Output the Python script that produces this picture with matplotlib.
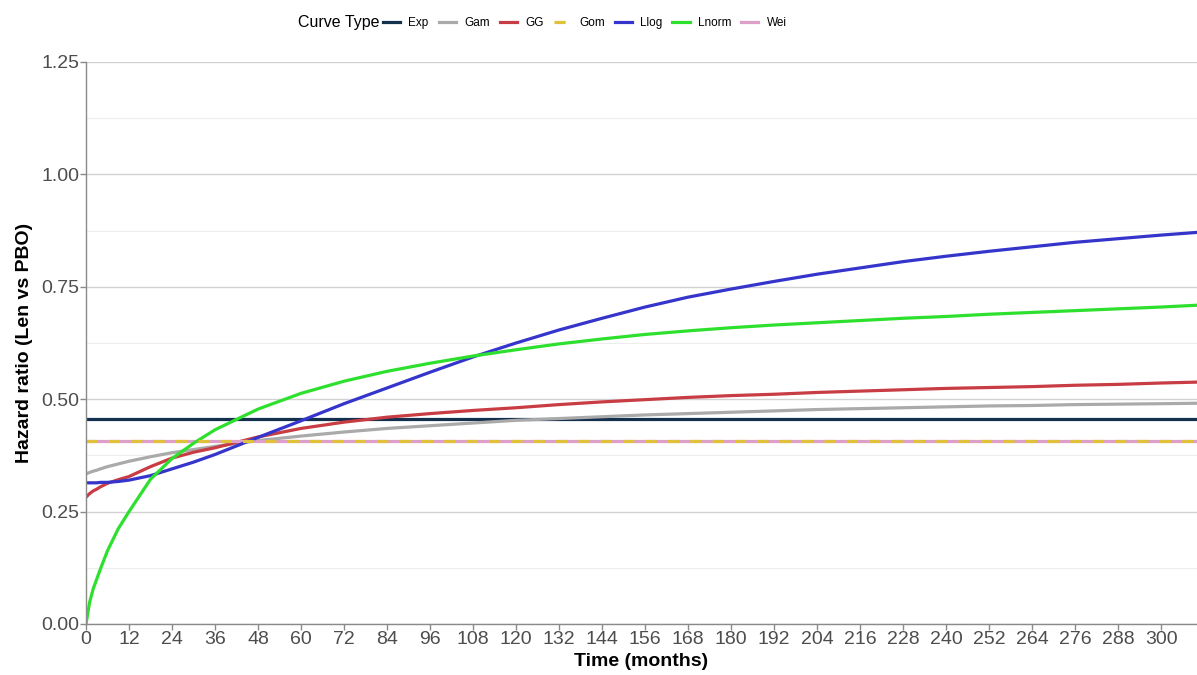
import numpy as np
import matplotlib
matplotlib.use("Agg")
import matplotlib.pyplot as plt
from matplotlib.ticker import MultipleLocator

plt.rcParams['font.family'] = ['Liberation Sans', 'DejaVu Sans']

# time grid (months) on which the curves were read
months = [0, 1, 2, 3, 4, 6, 9, 12, 18, 24, 30, 36, 48, 60, 72, 84, 96, 108,
          120, 132, 144, 156, 168, 180, 192, 204, 216, 228, 240, 252, 264, 276,
          288, 300, 310]

# hazard ratios
hr_exp = 0.456
hr_gom = 0.407
hr_wei = 0.407
hr_gam = [0.334, 0.337, 0.340, 0.342, 0.345, 0.350, 0.356, 0.362, 0.372, 0.381,
          0.388, 0.395, 0.408, 0.418, 0.427, 0.435, 0.441, 0.447,
          0.453, 0.457, 0.461, 0.465, 0.468, 0.471, 0.474, 0.477, 0.479, 0.481,
          0.483, 0.485, 0.486, 0.488, 0.489, 0.490, 0.491]
hr_gg = [0.282, 0.290, 0.296, 0.300, 0.305, 0.313, 0.321, 0.328, 0.350, 0.369,
         0.382, 0.392, 0.416, 0.435, 0.449, 0.460, 0.468, 0.475,
         0.481, 0.488, 0.494, 0.499, 0.504, 0.508, 0.511, 0.515, 0.518, 0.521,
         0.524, 0.526, 0.528, 0.531, 0.533, 0.536, 0.538]
hr_llog = [0.314, 0.314, 0.314, 0.314, 0.315, 0.315, 0.317, 0.320, 0.330, 0.345,
           0.360, 0.377, 0.415, 0.452, 0.490, 0.525, 0.560, 0.594,
           0.625, 0.654, 0.680, 0.705, 0.727, 0.745, 0.762, 0.778, 0.792, 0.806,
           0.818, 0.829, 0.839, 0.849, 0.857, 0.865, 0.871]
hr_lnorm = [0.000, 0.048, 0.078, 0.100, 0.122, 0.163, 0.212, 0.250, 0.322, 0.368,
            0.402, 0.432, 0.478, 0.513, 0.540, 0.562, 0.580, 0.596,
            0.610, 0.623, 0.634, 0.644, 0.652, 0.659, 0.665, 0.670, 0.675, 0.680,
            0.684, 0.689, 0.693, 0.697, 0.701, 0.705, 0.709]

colors = {'Exp': '#14304f', 'Gam': '#aaaaaa', 'GG': '#c83c43', 'Gom': '#dfc23a',
          'Llog': '#3535cc', 'Lnorm': '#2ee02e', 'Wei': '#dd9ec8'}

fig = plt.figure(figsize=(11.97, 6.75), dpi=100)
ax = fig.add_axes([86 / 1197, 1 - 624 / 675, 1 - 86 / 1197, (624 - 62) / 675])

m = np.array(months)
lw = 2.3
l_exp, = ax.plot(m, np.full(len(m), hr_exp), color=colors['Exp'], lw=lw, label='Exp')
l_gam, = ax.plot(m, hr_gam, color=colors['Gam'], lw=lw, label='Gam')
l_gg, = ax.plot(m, hr_gg, color=colors['GG'], lw=lw, label='GG')
l_wei, = ax.plot(m, np.full(len(m), hr_wei), color=colors['Wei'], lw=lw, label='Wei', zorder=2)
l_gom, = ax.plot(m, np.full(len(m), hr_gom), color=colors['Gom'], lw=lw, label='Gom',
                 dashes=(3.5, 3.5), zorder=2.1)
l_llog, = ax.plot(m, hr_llog, color=colors['Llog'], lw=lw, label='Llog')
l_lnorm, = ax.plot(m, hr_lnorm, color=colors['Lnorm'], lw=lw, label='Lnorm')

ax.set_xlim(0, 310)
ax.set_ylim(0, 1.25)
ax.xaxis.set_major_locator(MultipleLocator(12))
ax.yaxis.set_major_locator(MultipleLocator(0.25))
ax.yaxis.set_minor_locator(MultipleLocator(0.125))
ax.set_yticklabels([f'{v:.2f}' for v in ax.get_yticks()])

ax.grid(axis='y', which='major', color='#d2d2d2', lw=1.0)
ax.grid(axis='y', which='minor', color='#ededed', lw=0.8)
ax.set_axisbelow(True)
ax.axhline(1.25, color='#9a9a9a', lw=1.2, zorder=0.5)

for s in ['top', 'right']:
    ax.spines[s].set_visible(False)
for s in ['left', 'bottom']:
    ax.spines[s].set_color('#8a8a8a')
    ax.spines[s].set_linewidth(1.0)
ax.tick_params(axis='both', which='major', colors='#8a8a8a', labelcolor='#4d4d4d',
               labelsize=14, length=4, width=1.0, pad=1)
ax.tick_params(axis='y', which='minor', length=0)

ax.set_xlabel('Time (months)', fontsize=14, fontweight='bold', labelpad=4)
ax.set_ylabel('Hazard ratio (Len vs PBO)', fontsize=14, fontweight='bold', labelpad=6)

fig.text(298 / 1197, 1 - 23 / 675, 'Curve Type', fontsize=11.5, va='center', ha='left')
handles = [l_exp, l_gam, l_gg, l_gom, l_llog, l_lnorm, l_wei]
fig.legend(handles=handles, labels=[h.get_label() for h in handles], ncol=7,
           loc='center left', bbox_to_anchor=(383 / 1197, 1 - 23 / 675), frameon=False,
           fontsize=8.5, handlelength=1.45, handletextpad=0.7, columnspacing=0.85,
           borderpad=0, borderaxespad=0)

fig.savefig('out.png', dpi=100)
